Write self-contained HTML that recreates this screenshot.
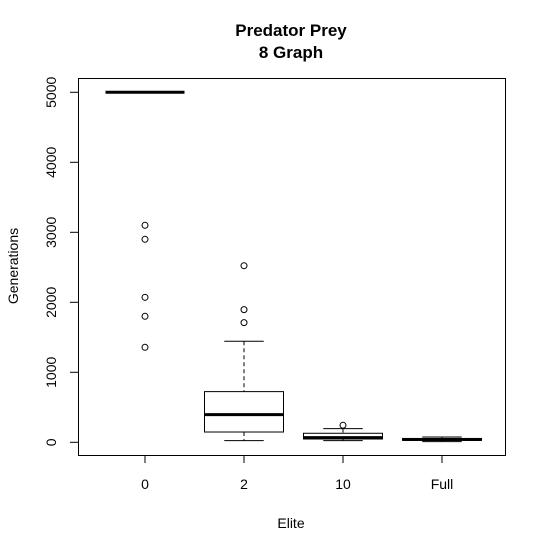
<!DOCTYPE html>
<html><head><meta charset="utf-8"><style>
body{margin:0;background:#fff}
svg text{font-family:"Liberation Sans",Arial,sans-serif;fill:#000}
</style></head><body>
<svg id="chart" width="547" height="553" xmlns="http://www.w3.org/2000/svg">
<text x="291" y="36" text-anchor="middle" font-size="17" font-weight="bold">Predator Prey</text>
<text x="291" y="58" text-anchor="middle" font-size="17" font-weight="bold">8 Graph</text>
<rect x="78.5" y="78.5" width="427" height="377" fill="none" stroke="#000"/>
<text x="291" y="528" text-anchor="middle" font-size="14">Elite</text>
<text transform="translate(18,266) rotate(-90)" text-anchor="middle" font-size="14">Generations</text>
<g id="marks"></g>
</svg>
<script>
const categories=["0","2","10","Full"];
const whiskerLow=[5000,24,24,10];
const q1=[5000,147,47,30];
const medians=[5000,396,67,40];
const q3=[5000,724,129,55];
const whiskerHigh=[5000,1443,196,75];
const outliers=[[3100,2900,2071,1800,1357],[2523,1895,1710],[243],[]];
const yTicks=[0,1000,2000,3000,4000,5000];
const NS="http://www.w3.org/2000/svg";
const svg=document.getElementById('chart');
const g=document.getElementById('marks');
function yS(v){return 442.3-v*0.07;}
function xS(i){return 145+i*99;}
function mk(t,a,parent){const e=document.createElementNS(NS,t);for(const k in a)e.setAttribute(k,a[k]);(parent||g).appendChild(e);return e;}
yTicks.forEach(v=>{
  const t=mk('line',{x1:70,x2:78,y1:yS(v),y2:yS(v),stroke:'#000'});
  
  
  const l=mk('text',{transform:`translate(56,${yS(v)}) rotate(-90)`,'text-anchor':'middle','font-size':'14'});
  
  
  l.textContent=v;
});
categories.forEach((c,i)=>{
  const x=xS(i),hw=39.5;
  const t=mk('line',{x1:x,x2:x,y1:455,y2:463,stroke:'#000'});
  
  
  const l=mk('text',{x:x,y:489,'text-anchor':'middle','font-size':'14'});
  
  
  l.textContent=c;
  const w1=mk('line',{x1:x,x2:x,y1:yS(whiskerHigh[i]),y2:yS(q3[i]),stroke:'#000','stroke-dasharray':'4,3'});
  
  
  const w2=mk('line',{x1:x,x2:x,y1:yS(q1[i]),y2:yS(whiskerLow[i]),stroke:'#000','stroke-dasharray':'4,3'});
  
  
  [whiskerHigh[i],whiskerLow[i]].forEach(v=>{
    const s=mk('line',{x1:x-hw/2,x2:x+hw/2,y1:yS(v),y2:yS(v),stroke:'#000'});
    
    
  });
  const b=mk('rect',{x:x-hw,y:yS(q3[i]),width:2*hw,height:Math.max(0,yS(q1[i])-yS(q3[i])),fill:'#fff',stroke:'#000'});
  
  
  const m=mk('line',{x1:x-hw,x2:x+hw,y1:yS(medians[i]),y2:yS(medians[i]),stroke:'#000','stroke-width':3});
  
  
  outliers[i].forEach(v=>{
    const o=mk('circle',{cx:x,cy:yS(v),r:3,fill:'none',stroke:'#000'});
    
    
  });
});
</script>
</body></html>
